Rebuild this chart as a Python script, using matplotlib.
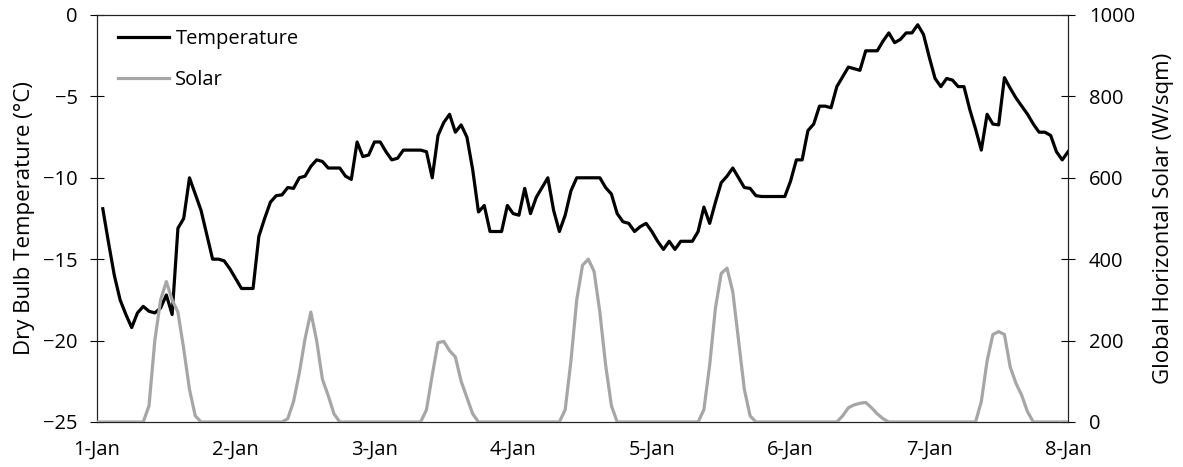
import numpy as np
import matplotlib
matplotlib.use('Agg')
import matplotlib.pyplot as plt

plt.rcParams['font.family'] = ['Open Sans', 'DejaVu Sans']

# hourly readings, hour 1 .. 168 (1-Jan 01:00 to 8-Jan 00:00)
temp = [-11.9, -14.0, -16.0, -17.5, -18.4, -19.2, -18.3, -17.9, -18.2, -18.3,
        -18.0, -17.2, -18.4, -13.1, -12.5, -10.0, -11.0, -12.0, -13.5, -15.0,
        -15.0, -15.1, -15.6, -16.2, -16.8, -16.8, -16.8, -13.6, -12.5, -11.5,
        -11.1, -11.05, -10.6, -10.65, -10.0, -9.9, -9.3, -8.9, -9.0, -9.4,
        -9.4, -9.4, -9.9, -10.1, -7.8, -8.7, -8.6, -7.8, -7.8, -8.4,
        -8.9, -8.8, -8.3, -8.3, -8.3, -8.3, -8.4, -10.0, -7.4, -6.6,
        -6.1, -7.2, -6.75, -7.5, -9.5, -12.1, -11.7, -13.3, -13.3, -13.3,
        -11.7, -12.2, -12.3, -10.65, -12.2, -11.2, -10.6, -10.0, -12.0, -13.3,
        -12.3, -10.8, -10.0, -10.0, -10.0, -10.0, -10.0, -10.6, -11.0, -12.2,
        -12.7, -12.8, -13.3, -13.0, -12.8, -13.3, -13.9, -14.4, -13.9, -14.4,
        -13.9, -13.9, -13.9, -13.3, -11.8, -12.8, -11.5, -10.3, -9.9, -9.4,
        -10.0, -10.6, -10.65, -11.1, -11.15, -11.15, -11.15, -11.15, -11.15, -10.2,
        -8.9, -8.9, -7.1, -6.7, -5.6, -5.6, -5.7, -4.4, -3.8, -3.2,
        -3.3, -3.4, -2.2, -2.2, -2.2, -1.6, -1.1, -1.7, -1.5, -1.1,
        -1.1, -0.6, -1.2, -2.6, -3.9, -4.4, -3.9, -4.0, -4.4, -4.4,
        -5.8, -7.0, -8.3, -6.1, -6.7, -6.75, -3.85, -4.5, -5.1, -5.6,
        -6.1, -6.7, -7.2, -7.2, -7.4, -8.4, -8.9, -8.4]

# hourly readings, hour 0 .. 168
solar = [0]*9 + [40, 200, 300, 345, 300, 270, 180, 80, 15] \
      + [0]*15 + [8, 50, 120, 205, 270, 200, 105, 65, 20] \
      + [0]*15 + [30, 115, 195, 198, 175, 160, 100, 60, 20] \
      + [0]*15 + [30, 150, 300, 385, 400, 370, 270, 140, 40] \
      + [0]*15 + [30, 140, 280, 365, 378, 320, 200, 80, 15] \
      + [0]*15 + [15, 35, 42, 46, 48, 35, 20, 8] \
      + [0]*16 + [50, 150, 215, 222, 215, 135, 95, 65, 25] \
      + [0]*7

day_labels = ['1-Jan', '2-Jan', '3-Jan', '4-Jan', '5-Jan', '6-Jan', '7-Jan', '8-Jan']

t_hours = np.arange(1, len(temp) + 1) / 24.0
s_hours = np.arange(len(solar)) / 24.0

fig = plt.figure(figsize=(11.83, 4.67), dpi=100)
ax1 = fig.add_axes([0.082, 0.0964, 0.8208, 0.8715])
ax2 = ax1.twinx()

ax1.plot(t_hours, temp, color='black', linewidth=2.3, label='Temperature',
         zorder=3, solid_joinstyle='round')
ax2.plot(s_hours, solar, color='#a6a6a6', linewidth=2.3, label='Solar',
         zorder=3, solid_joinstyle='round')

ax1.set_xlim(0, 7)
ax1.set_ylim(-25, 0)
ax2.set_ylim(0, 1000)
ax1.set_xticks(np.arange(8))
ax1.set_xticklabels(day_labels, fontsize=14.5)
ax1.tick_params(axis='x', length=0, pad=13)
ax1.set_yticks(np.arange(-25, 1, 5))
ax1.tick_params(axis='y', direction='inout', length=10, labelsize=14.5, width=0.8, pad=9)
ax2.set_yticks(np.arange(0, 1001, 200))
ax2.tick_params(axis='y', direction='inout', length=10, labelsize=14.5, width=0.8, pad=10)

ax1.set_ylabel('Dry Bulb Temperature (°C)', fontsize=16, labelpad=6)
ax2.set_ylabel('Global Horizontal Solar (W/sqm)', fontsize=16, labelpad=13)

for ax in (ax1, ax2):
    for s in ax.spines.values():
        s.set_color('#222222')
        s.set_linewidth(0.8)

h1, l1 = ax1.get_legend_handles_labels()
h2, l2 = ax2.get_legend_handles_labels()
ax2.legend(h1 + h2, l1 + l2, loc='upper left', frameon=False, fontsize=14.5,
           handlelength=2.55, handletextpad=0.3, labelspacing=1.05,
           borderaxespad=0, borderpad=0, bbox_to_anchor=(0.0216, 0.965))

fig.savefig('out.png', dpi=100)
